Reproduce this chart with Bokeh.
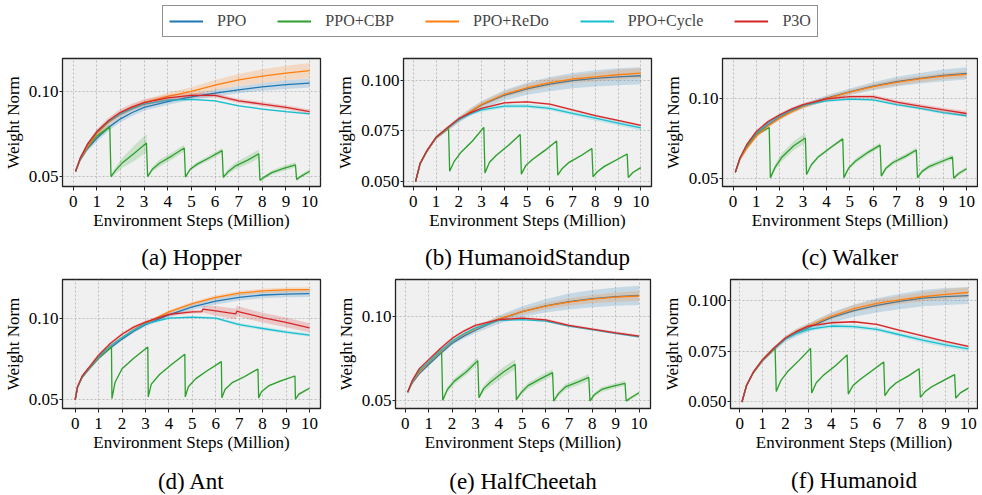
import numpy as np
from bokeh.plotting import figure
from bokeh.layouts import column, row
from bokeh.models import Range1d, FixedTicker, PrintfTickFormatter, Legend, LegendItem, LinearAxis
from bokeh.embed import file_html
from bokeh.resources import INLINE

# ---------------- data ----------------
METHODS = ["PPO", "PPO+CBP", "PPO+ReDo", "PPO+Cycle", "P3O"]
COLORS = ["#1f77b4", "#2ca02c", "#ff7f0e", "#17becf", "#d62728"]

X_TICKS = [0, 1, 2, 3, 4, 5, 6, 7, 8, 9, 10]

X_STD = [0.1, 0.3, 0.6, 1, 1.5, 2, 2.5, 3, 4, 5, 6, 7, 8, 9, 10]
X_ANT = [0, 0.1, 0.3, 0.6, 1, 1.5, 2, 2.5, 3, 4, 5, 6, 7, 8, 9, 10]
CX_STD = [0.1, 0.3, 0.6, 1.0, 1.55,
          1.6, 1.8, 2.1, 2.6, 3.1,
          3.15, 3.35, 3.65, 4.2, 4.7,
          4.75, 4.95, 5.25, 5.8, 6.3,
          6.35, 6.55, 6.85, 7.4, 7.85,
          7.9, 8.1, 8.4, 8.9, 9.4,
          9.45, 9.65, 10.0]
CX_ANT = [0, 0.1, 0.3, 0.6, 1.0, 1.55,
          1.57, 1.7, 2.0, 2.5, 3.1,
          3.12, 3.25, 3.6, 4.1, 4.68,
          4.7, 4.83, 5.15, 5.6, 6.24,
          6.26, 6.4, 6.7, 7.2, 7.8,
          7.83, 7.95, 8.25, 8.75, 9.38,
          9.4, 9.55, 10.0]
ANT_P3O_X = [0, 0.1, 0.3, 0.6, 1, 1.5, 2, 2.5, 3, 4, 5, 5.4, 5.45, 6, 6.85, 6.9, 7, 8, 9, 10]

# (a) Hopper
HOP_PPO = [0.0532, 0.0600, 0.0665, 0.0726, 0.0790, 0.0840, 0.0877, 0.0907, 0.0940, 0.0968, 0.0990, 0.1010, 0.1027, 0.1040, 0.1049]
HOP_REDO = [0.0532, 0.0605, 0.0675, 0.0755, 0.0820, 0.0869, 0.0905, 0.0935, 0.0972, 0.1000, 0.1037, 0.1068, 0.1090, 0.1108, 0.1122]
HOP_CYCLE = [0.0532, 0.0610, 0.0690, 0.0764, 0.0825, 0.0869, 0.0900, 0.0926, 0.0949, 0.0954, 0.0945, 0.0916, 0.0897, 0.0882, 0.0869]
HOP_P3O = [0.0532, 0.0610, 0.0690, 0.0764, 0.0830, 0.0878, 0.0910, 0.0935, 0.0962, 0.0977, 0.0977, 0.0945, 0.0926, 0.0907, 0.0882]
HOP_CBP = [0.0532, 0.0605, 0.0675, 0.0740, 0.0793,
           0.0502, 0.0540, 0.0585, 0.0640, 0.0698,
           0.0502, 0.0545, 0.0580, 0.0625, 0.0669,
           0.0500, 0.0545, 0.0575, 0.0615, 0.0654,
           0.0498, 0.0530, 0.0563, 0.0600, 0.0635,
           0.0481, 0.0500, 0.0525, 0.0550, 0.0571,
           0.0485, 0.0505, 0.0533]
HOP_PPO_SD = [0.0005, 0.0010, 0.0015, 0.0020, 0.0020, 0.0020, 0.0020, 0.0020, 0.0018, 0.0018, 0.0020, 0.0020, 0.0022, 0.0025, 0.0025]
HOP_REDO_SD = [0.0005, 0.0010, 0.0015, 0.0015, 0.0015, 0.0015, 0.0015, 0.0015, 0.0020, 0.0025, 0.0030, 0.0035, 0.0040, 0.0042, 0.0045]
HOP_CYCLE_SD = [0.0005, 0.0008, 0.0010, 0.0010, 0.0010, 0.0008, 0.0006, 0.0005, 0.0005, 0.0005, 0.0005, 0.0005, 0.0005, 0.0005, 0.0005]
HOP_P3O_SD = [0.0005, 0.0010, 0.0012, 0.0015, 0.0018, 0.0020, 0.0020, 0.0020, 0.0018, 0.0015, 0.0012, 0.0012, 0.0012, 0.0012, 0.0012]
HOP_CBP_SD = [0.0005, 0.0010, 0.0012, 0.0015, 0.0015,
              0.0010, 0.0020, 0.0030, 0.0045, 0.0055,
              0.0010, 0.0015, 0.0020, 0.0020, 0.0020,
              0.0010, 0.0010, 0.0012, 0.0015, 0.0015,
              0.0010, 0.0015, 0.0020, 0.0025, 0.0025,
              0.0010, 0.0010, 0.0012, 0.0015, 0.0015,
              0.0010, 0.0010, 0.0010]

# (b) HumanoidStandup
HS_PPO = [0.0500, 0.0588, 0.0650, 0.0716, 0.0761, 0.0804, 0.0843, 0.0877, 0.0925, 0.0957, 0.0980, 0.0997, 0.1008, 0.1016, 0.1021]
HS_REDO = [0.0500, 0.0588, 0.0650, 0.0716, 0.0762, 0.0806, 0.0845, 0.0880, 0.0930, 0.0962, 0.0987, 0.1005, 0.1016, 0.1026, 0.1034]
HS_CYCLE = [0.0500, 0.0590, 0.0652, 0.0717, 0.0763, 0.0805, 0.0832, 0.0853, 0.0872, 0.0872, 0.0861, 0.0836, 0.0812, 0.0788, 0.0764]
HS_P3O = [0.0500, 0.0590, 0.0653, 0.0718, 0.0765, 0.0810, 0.0838, 0.0861, 0.0888, 0.0893, 0.0881, 0.0853, 0.0825, 0.0801, 0.0777]
HS_CBP = [0.0500, 0.0588, 0.0650, 0.0716, 0.0761,
          0.0551, 0.0600, 0.0645, 0.0700, 0.0767,
          0.0543, 0.0595, 0.0630, 0.0680, 0.0732,
          0.0537, 0.0580, 0.0610, 0.0655, 0.0700,
          0.0532, 0.0565, 0.0595, 0.0630, 0.0663,
          0.0524, 0.0550, 0.0575, 0.0605, 0.0636,
          0.0520, 0.0545, 0.0569]
HS_PPO_SD = [0.0000, 0.0005, 0.0010, 0.0010, 0.0012, 0.0015, 0.0018, 0.0020, 0.0025, 0.0030, 0.0035, 0.0038, 0.0040, 0.0042, 0.0042]
HS_REDO_SD = [0.0000, 0.0005, 0.0008, 0.0010, 0.0010, 0.0010, 0.0012, 0.0012, 0.0015, 0.0018, 0.0020, 0.0020, 0.0022, 0.0025, 0.0025]
HS_CYCLE_SD = [0.0000, 0.0004, 0.0005, 0.0006, 0.0006, 0.0006, 0.0008, 0.0010, 0.0010, 0.0010, 0.0010, 0.0010, 0.0012, 0.0012, 0.0012]
HS_P3O_SD = [0.0000, 0.0004, 0.0005, 0.0005, 0.0005, 0.0005, 0.0005, 0.0005, 0.0005, 0.0005, 0.0005, 0.0005, 0.0005, 0.0005, 0.0005]
HS_CBP_SD = [0.0000, 0.0004, 0.0005, 0.0005, 0.0005,
             0.0005, 0.0005, 0.0005, 0.0005, 0.0005,
             0.0005, 0.0005, 0.0005, 0.0005, 0.0005,
             0.0005, 0.0005, 0.0005, 0.0005, 0.0005,
             0.0005, 0.0005, 0.0005, 0.0005, 0.0005,
             0.0005, 0.0005, 0.0005, 0.0005, 0.0005,
             0.0005, 0.0005, 0.0005]

# (c) Walker
WK_PPO = [0.0540, 0.0625, 0.0700, 0.0773, 0.0835, 0.0881, 0.0920, 0.0951, 0.1000, 0.1040, 0.1075, 0.1103, 0.1124, 0.1142, 0.1154]
WK_REDO = [0.0540, 0.0620, 0.0690, 0.0765, 0.0828, 0.0876, 0.0915, 0.0948, 0.0998, 0.1038, 0.1072, 0.1099, 0.1120, 0.1137, 0.1148]
WK_CYCLE = [0.0540, 0.0627, 0.0710, 0.0783, 0.0848, 0.0891, 0.0926, 0.0955, 0.0984, 0.0994, 0.0990, 0.0960, 0.0937, 0.0911, 0.0891]
WK_P3O = [0.0540, 0.0630, 0.0715, 0.0793, 0.0855, 0.0897, 0.0932, 0.0960, 0.0996, 0.1010, 0.1010, 0.0976, 0.0951, 0.0927, 0.0905]
WK_CBP = [0.0540, 0.0625, 0.0700, 0.0773, 0.0818,
          0.0506, 0.0570, 0.0635, 0.0704, 0.0753,
          0.0526, 0.0585, 0.0635, 0.0695, 0.0747,
          0.0506, 0.0565, 0.0610, 0.0665, 0.0708,
          0.0516, 0.0565, 0.0600, 0.0640, 0.0678,
          0.0506, 0.0545, 0.0575, 0.0605, 0.0634,
          0.0502, 0.0530, 0.0561]
WK_PPO_SD = [0.0003, 0.0006, 0.0010, 0.0012, 0.0015, 0.0015, 0.0015, 0.0015, 0.0018, 0.0020, 0.0025, 0.0030, 0.0033, 0.0036, 0.0038]
WK_REDO_SD = [0.0003, 0.0006, 0.0010, 0.0012, 0.0012, 0.0012, 0.0012, 0.0012, 0.0015, 0.0015, 0.0018, 0.0020, 0.0020, 0.0020, 0.0020]
WK_CYCLE_SD = [0.0003, 0.0005, 0.0006, 0.0008, 0.0008, 0.0008, 0.0008, 0.0008, 0.0008, 0.0008, 0.0008, 0.0008, 0.0008, 0.0010, 0.0010]
WK_P3O_SD = [0.0003, 0.0006, 0.0008, 0.0010, 0.0010, 0.0010, 0.0010, 0.0010, 0.0010, 0.0010, 0.0012, 0.0012, 0.0013, 0.0014, 0.0015]
WK_CBP_SD = [0.0003, 0.0006, 0.0008, 0.0010, 0.0010,
             0.0015, 0.0020, 0.0025, 0.0028, 0.0030,
             0.0008, 0.0010, 0.0010, 0.0010, 0.0010,
             0.0010, 0.0012, 0.0015, 0.0015, 0.0015,
             0.0010, 0.0012, 0.0015, 0.0015, 0.0015,
             0.0010, 0.0012, 0.0015, 0.0015, 0.0015,
             0.0010, 0.0012, 0.0012]

# (d) Ant
ANT_PPO = [0.0500, 0.0575, 0.0638, 0.0690, 0.0754, 0.0818, 0.0872, 0.0920, 0.0961, 0.1020, 0.1069, 0.1104, 0.1128, 0.1142, 0.1148, 0.1150]
ANT_REDO = [0.0500, 0.0577, 0.0642, 0.0695, 0.0762, 0.0828, 0.0882, 0.0930, 0.0970, 0.1039, 0.1089, 0.1128, 0.1154, 0.1167, 0.1173, 0.1175]
ANT_CYCLE = [0.0500, 0.0577, 0.0642, 0.0697, 0.0765, 0.0830, 0.0882, 0.0928, 0.0965, 0.1000, 0.1006, 0.1000, 0.0961, 0.0937, 0.0915, 0.0896]
ANT_P3O = [0.0500, 0.0580, 0.0646, 0.0700, 0.0774, 0.0845, 0.0902, 0.0945, 0.0976, 0.1024, 0.1039, 0.1040, 0.1055, 0.1045, 0.1026, 0.1043, 0.1039, 0.1004, 0.0974, 0.0941]
ANT_CBP = [0.0500, 0.0577, 0.0640, 0.0695, 0.0758, 0.0823,
           0.0508, 0.0606, 0.0690, 0.0755, 0.0823,
           0.0518, 0.0596, 0.0655, 0.0715, 0.0779,
           0.0518, 0.0580, 0.0630, 0.0675, 0.0734,
           0.0512, 0.0565, 0.0605, 0.0640, 0.0689,
           0.0512, 0.0550, 0.0585, 0.0615, 0.0646,
           0.0504, 0.0535, 0.0571]
ANT_PPO_SD = [0.0000, 0.0005, 0.0008, 0.0010, 0.0010, 0.0010, 0.0010, 0.0010, 0.0012, 0.0015, 0.0018, 0.0020, 0.0020, 0.0020, 0.0020, 0.0020]
ANT_REDO_SD = [0.0000, 0.0003, 0.0005, 0.0006, 0.0006, 0.0006, 0.0006, 0.0006, 0.0008, 0.0010, 0.0012, 0.0012, 0.0013, 0.0014, 0.0015, 0.0015]
ANT_CYCLE_SD = [0.0000, 0.0003, 0.0005, 0.0006, 0.0006, 0.0006, 0.0006, 0.0006, 0.0006, 0.0006, 0.0008, 0.0008, 0.0010, 0.0010, 0.0010, 0.0010]
ANT_P3O_SD = [0.0000, 0.0005, 0.0008, 0.0010, 0.0010, 0.0010, 0.0010, 0.0010, 0.0010, 0.0010, 0.0010, 0.0010, 0.0020, 0.0030, 0.0032, 0.0032, 0.0032, 0.0030, 0.0030, 0.0028]
ANT_CBP_SD = [0.0000, 0.0003, 0.0005, 0.0005, 0.0005, 0.0005,
              0.0005, 0.0005, 0.0005, 0.0005, 0.0005,
              0.0005, 0.0005, 0.0005, 0.0005, 0.0005,
              0.0005, 0.0005, 0.0005, 0.0005, 0.0005,
              0.0005, 0.0005, 0.0005, 0.0006, 0.0006,
              0.0008, 0.0006, 0.0006, 0.0006, 0.0006,
              0.0008, 0.0008, 0.0008]

# (e) HalfCheetah
HC_PPO = [0.0549, 0.0605, 0.0660, 0.0715, 0.0780, 0.0842, 0.0885, 0.0920, 0.0984, 0.1031, 0.1066, 0.1092, 0.1109, 0.1121, 0.1129]
HC_REDO = [0.0549, 0.0610, 0.0668, 0.0725, 0.0790, 0.0852, 0.0895, 0.0930, 0.0988, 0.1031, 0.1064, 0.1089, 0.1106, 0.1118, 0.1125]
HC_CYCLE = [0.0549, 0.0615, 0.0680, 0.0730, 0.0795, 0.0855, 0.0899, 0.0934, 0.0979, 0.0984, 0.0975, 0.0945, 0.0924, 0.0902, 0.0881]
HC_P3O = [0.0549, 0.0620, 0.0690, 0.0744, 0.0810, 0.0871, 0.0915, 0.0949, 0.0984, 0.0992, 0.0982, 0.0949, 0.0926, 0.0904, 0.0885]
HC_CBP = [0.0549, 0.0612, 0.0672, 0.0728, 0.0803,
          0.0500, 0.0565, 0.0615, 0.0670, 0.0738,
          0.0516, 0.0570, 0.0610, 0.0670, 0.0716,
          0.0504, 0.0545, 0.0588, 0.0630, 0.0666,
          0.0496, 0.0540, 0.0580, 0.0610, 0.0637,
          0.0496, 0.0535, 0.0565, 0.0585, 0.0602,
          0.0496, 0.0515, 0.0545]
HC_PPO_SD = [0.0003, 0.0006, 0.0008, 0.0010, 0.0012, 0.0012, 0.0015, 0.0018, 0.0025, 0.0032, 0.0040, 0.0048, 0.0052, 0.0055, 0.0058]
HC_REDO_SD = [0.0003, 0.0006, 0.0008, 0.0010, 0.0010, 0.0010, 0.0010, 0.0012, 0.0015, 0.0018, 0.0020, 0.0022, 0.0025, 0.0028, 0.0030]
HC_CYCLE_SD = [0.0003, 0.0005, 0.0006, 0.0006, 0.0006, 0.0006, 0.0006, 0.0006, 0.0006, 0.0006, 0.0006, 0.0006, 0.0006, 0.0006, 0.0006]
HC_P3O_SD = [0.0003, 0.0005, 0.0007, 0.0008, 0.0008, 0.0008, 0.0008, 0.0008, 0.0008, 0.0008, 0.0008, 0.0008, 0.0008, 0.0008, 0.0008]
HC_CBP_SD = [0.0003, 0.0006, 0.0008, 0.0010, 0.0010,
             0.0010, 0.0015, 0.0018, 0.0020, 0.0020,
             0.0010, 0.0018, 0.0025, 0.0030, 0.0030,
             0.0010, 0.0015, 0.0018, 0.0020, 0.0020,
             0.0010, 0.0015, 0.0018, 0.0020, 0.0020,
             0.0010, 0.0012, 0.0015, 0.0015, 0.0015,
             0.0010, 0.0010, 0.0010]

# (f) Humanoid
HU_PPO = [0.0500, 0.0580, 0.0645, 0.0705, 0.0760, 0.0810, 0.0842, 0.0866, 0.0915, 0.0950, 0.0976, 0.0995, 0.1011, 0.1019, 0.1024]
HU_REDO = [0.0500, 0.0580, 0.0645, 0.0707, 0.0763, 0.0814, 0.0848, 0.0874, 0.0922, 0.0960, 0.0985, 0.1003, 0.1018, 0.1030, 0.1039]
HU_CYCLE = [0.0500, 0.0581, 0.0647, 0.0706, 0.0763, 0.0810, 0.0838, 0.0858, 0.0874, 0.0871, 0.0858, 0.0831, 0.0805, 0.0781, 0.0761]
HU_P3O = [0.0500, 0.0582, 0.0648, 0.0708, 0.0766, 0.0815, 0.0848, 0.0874, 0.0890, 0.0895, 0.0882, 0.0853, 0.0826, 0.0798, 0.0774]
HU_CBP = [0.0500, 0.0580, 0.0645, 0.0705, 0.0764,
          0.0552, 0.0605, 0.0650, 0.0705, 0.0764,
          0.0544, 0.0595, 0.0630, 0.0680, 0.0732,
          0.0539, 0.0580, 0.0610, 0.0655, 0.0697,
          0.0531, 0.0565, 0.0595, 0.0630, 0.0664,
          0.0523, 0.0550, 0.0575, 0.0605, 0.0635,
          0.0519, 0.0545, 0.0568]
HU_PPO_SD = [0.0000, 0.0005, 0.0008, 0.0010, 0.0012, 0.0015, 0.0018, 0.0020, 0.0025, 0.0030, 0.0035, 0.0038, 0.0040, 0.0042, 0.0042]
HU_REDO_SD = [0.0000, 0.0005, 0.0008, 0.0010, 0.0010, 0.0010, 0.0012, 0.0012, 0.0015, 0.0018, 0.0020, 0.0020, 0.0022, 0.0025, 0.0025]
HU_CYCLE_SD = [0.0000, 0.0004, 0.0005, 0.0006, 0.0006, 0.0006, 0.0008, 0.0010, 0.0010, 0.0010, 0.0010, 0.0010, 0.0012, 0.0012, 0.0012]
HU_P3O_SD = [0.0000, 0.0004, 0.0005, 0.0005, 0.0005, 0.0005, 0.0005, 0.0005, 0.0005, 0.0005, 0.0005, 0.0005, 0.0005, 0.0005, 0.0005]
HU_CBP_SD = [0.0000, 0.0004, 0.0005, 0.0005, 0.0005,
             0.0005, 0.0005, 0.0005, 0.0005, 0.0005,
             0.0005, 0.0005, 0.0005, 0.0005, 0.0005,
             0.0005, 0.0005, 0.0005, 0.0005, 0.0005,
             0.0005, 0.0005, 0.0005, 0.0005, 0.0005,
             0.0005, 0.0005, 0.0005, 0.0005, 0.0005,
             0.0005, 0.0005, 0.0005]

CAPTIONS = ["(a) Hopper", "(b) HumanoidStandup", "(c) Walker",
            "(d) Ant", "(e) HalfCheetah", "(f) Humanoid"]
Y_TICKS_A = [0.05, 0.10]
Y_TICKS_B = [0.050, 0.075, 0.100]

PANELS = [
    dict(series=[(X_STD, HOP_PPO, HOP_PPO_SD), (CX_STD, HOP_CBP, HOP_CBP_SD), (X_STD, HOP_REDO, HOP_REDO_SD),
                 (X_STD, HOP_CYCLE, HOP_CYCLE_SD), (X_STD, HOP_P3O, HOP_P3O_SD)],
         yticks=Y_TICKS_A, fmt="%.2f", xlim=(-0.45, 10.46), ylim=(0.0444, 0.1193)),
    dict(series=[(X_STD, HS_PPO, HS_PPO_SD), (CX_STD, HS_CBP, HS_CBP_SD), (X_STD, HS_REDO, HS_REDO_SD),
                 (X_STD, HS_CYCLE, HS_CYCLE_SD), (X_STD, HS_P3O, HS_P3O_SD)],
         yticks=Y_TICKS_B, fmt="%.3f", xlim=(-0.43, 10.47), ylim=(0.0476, 0.1106)),
    dict(series=[(X_STD, WK_PPO, WK_PPO_SD), (CX_STD, WK_CBP, WK_CBP_SD), (X_STD, WK_REDO, WK_REDO_SD),
                 (X_STD, WK_CYCLE, WK_CYCLE_SD), (X_STD, WK_P3O, WK_P3O_SD)],
         yticks=Y_TICKS_A, fmt="%.2f", xlim=(-0.45, 10.47), ylim=(0.0451, 0.1247)),
    dict(series=[(X_ANT, ANT_PPO, ANT_PPO_SD), (CX_ANT, ANT_CBP, ANT_CBP_SD), (X_ANT, ANT_REDO, ANT_REDO_SD),
                 (X_ANT, ANT_CYCLE, ANT_CYCLE_SD), (ANT_P3O_X, ANT_P3O, ANT_P3O_SD)],
         yticks=Y_TICKS_A, fmt="%.2f", xlim=(-0.54, 10.47), ylim=(0.0447, 0.1237)),
    dict(series=[(X_STD, HC_PPO, HC_PPO_SD), (CX_STD, HC_CBP, HC_CBP_SD), (X_STD, HC_REDO, HC_REDO_SD),
                 (X_STD, HC_CYCLE, HC_CYCLE_SD), (X_STD, HC_P3O, HC_P3O_SD)],
         yticks=Y_TICKS_A, fmt="%.2f", xlim=(-0.42, 10.49), ylim=(0.0451, 0.1224)),
    dict(series=[(X_STD, HU_PPO, HU_PPO_SD), (CX_STD, HU_CBP, HU_CBP_SD), (X_STD, HU_REDO, HU_REDO_SD),
                 (X_STD, HU_CYCLE, HU_CYCLE_SD), (X_STD, HU_P3O, HU_P3O_SD)],
         yticks=Y_TICKS_B, fmt="%.3f", xlim=(-0.40, 10.40), ylim=(0.0468, 0.1103)),
]

# ---------------- layout / style ----------------
FONT = "Liberation Serif"
# width, height, border left, right, top, bottom, caption standoff
GEOM = [(333, 229, 61, 13, 11, 86, 12), (327, 229, 65, 9, 15, 85, 12), (318, 229, 61, 1, 11, 86, 12),
        (333, 226, 61, 13, 3, 90, 14), (327, 226, 58, 10, 4, 90, 14), (318, 226, 69, 1, 7, 88, 13)]


def style_text_axis(ax):
    ax.axis_line_color = None
    ax.major_tick_line_color = "#222222"
    ax.major_tick_in = 0
    ax.minor_tick_line_color = None
    ax.major_label_text_font = FONT
    ax.major_label_text_font_size = "17px"
    ax.major_label_text_font_style = "normal"
    ax.major_label_text_color = "black"
    ax.axis_label_text_font = FONT
    ax.axis_label_text_font_size = "17px"
    ax.axis_label_text_font_style = "normal"
    ax.axis_label_text_color = "black"


def make_panel(i):
    cfg = PANELS[i]
    w, h, bl, br, bt, bb, cs = GEOM[i]
    p = figure(width=w, height=h, output_backend="svg", toolbar_location=None,
               x_range=Range1d(*cfg["xlim"]), y_range=Range1d(*cfg["ylim"]),
               min_border_left=bl, min_border_right=br, min_border_top=bt, min_border_bottom=bb,
               title_location="below")
    p.background_fill_color = "#f0f0f0"
    p.border_fill_color = "white"
    p.outline_line_color = "#222222"
    p.outline_line_width = 1.3

    for (xs, ys, sd), color in zip(cfg["series"], COLORS):
        xs = np.asarray(xs, float)
        ys = np.asarray(ys, float)
        sd = np.asarray(sd, float)
        p.varea(x=xs, y1=ys - sd, y2=ys + sd, fill_color=color, fill_alpha=0.2)
        p.line(xs, ys, line_color=color, line_width=1.3)

    p.xaxis.ticker = FixedTicker(ticks=X_TICKS)
    p.yaxis.ticker = FixedTicker(ticks=cfg["yticks"])
    p.yaxis.formatter = PrintfTickFormatter(format=cfg["fmt"])
    p.xaxis.axis_label = "Environment Steps (Million)"
    p.yaxis.axis_label = "Weight Norm"
    for ax in p.xaxis + p.yaxis:
        style_text_axis(ax)
    p.xaxis.major_tick_out = 4
    p.xaxis.major_label_standoff = 5
    p.xaxis.axis_label_standoff = 1
    p.yaxis.major_tick_out = 3
    p.yaxis.major_label_standoff = 1
    p.yaxis.axis_label_standoff = 3
    p.grid.grid_line_color = "#b0b0b0"
    p.grid.grid_line_dash = "2 2"
    p.grid.grid_line_width = 0.8

    # sub-figure caption, as a tick-less axis label under the x axis
    cap = LinearAxis(ticker=FixedTicker(ticks=[]), axis_label=CAPTIONS[i],
                     axis_line_color=None, major_tick_line_color=None, minor_tick_line_color=None,
                     major_tick_out=0, major_tick_in=0, major_label_standoff=0,
                     axis_label_standoff=cs, axis_label_text_font=FONT,
                     axis_label_text_font_size="23px", axis_label_text_font_style="normal",
                     axis_label_text_color="black")
    p.add_layout(cap, "below")
    return p


panels = [make_panel(i) for i in range(6)]

# legend strip (legend renderers hold points outside the visible range)
lf = figure(width=978, height=43, output_backend="svg", toolbar_location=None,
            x_range=Range1d(0, 1), y_range=Range1d(0, 1), min_border=0,
            x_axis_location=None, y_axis_location=None)
lf.outline_line_color = None
lf.grid.visible = False
lf.background_fill_color = "white"
items = []
for m, c in zip(METHODS, COLORS):
    r = lf.line(x=[5, 6], y=[5, 5], line_color=c, line_width=1.8)
    items.append(LegendItem(label=m, renderers=[r]))
leg = Legend(items=items, orientation="horizontal", location=(162, 6),
             label_text_font=FONT, label_text_font_size="16px",
             glyph_width=34, glyph_height=18, label_height=18, label_standoff=14,
             spacing=31, padding=6, margin=0,
             border_line_color="#222222", border_line_width=1,
             background_fill_color="white", background_fill_alpha=1.0)
lf.add_layout(leg, "center")

layout = column(lf, row(*panels[:3]), row(*panels[3:]))

open("out.html", "w").write(file_html(layout, INLINE))
